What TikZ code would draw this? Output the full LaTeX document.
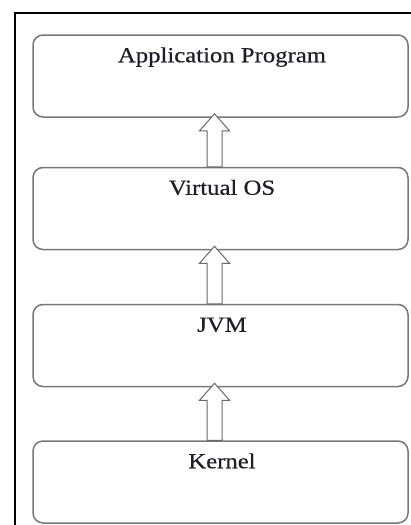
\documentclass[tikz,border=0pt]{standalone}
\usepackage{fontspec}
\setmainfont{Liberation Serif}[FakeStretch=1.15,FakeBold=0.4]
\usetikzlibrary{calc}
\definecolor{boxline}{RGB}{120,120,120}
\definecolor{arrowline}{RGB}{105,105,105}
\definecolor{labeltext}{RGB}{30,30,40}
\tikzset{
  layer/.style={draw=boxline, line width=1.5pt, fill=white, rounded corners=10pt,
    minimum width=375pt, minimum height=82pt, inner sep=0pt},
  layertext/.style={font=\fontsize{21.5}{26}\selectfont, text=labeltext, anchor=base},
  hollowarrow/.style={draw=arrowline, line width=1pt, fill=white, line join=miter},
  frameline/.style={draw=black, line width=2.2pt}
}
% hollow block arrow rising from the top of #1 into the bottom of #2
\newcommand\liftarrow[2]{%
  \draw[hollowarrow] let \p1=($(#1.north)+(-6pt,0)$), \p2=($(#2.south)+(-6pt,4pt)$) in
    (\x1-7.5pt,\y1) -- (\x1-7.5pt,\y2-17pt) -- (\x1-15pt,\y2-17pt) -- (\x1,\y2)
    -- (\x1+15pt,\y2-17pt) -- (\x1+7.5pt,\y2-17pt) -- (\x1+7.5pt,\y1) -- cycle;}
\begin{document}
\begin{tikzpicture}[x=1pt,y=-1pt]
  \useasboundingbox (0,0) rectangle (410,525);
  % outer frame, open to the right and bottom
  \draw[frameline] (15,526) -- (15,13) -- (411,13);
  % stacked layers
  \node[layer] (app) at (220.5,76) {};
  \node[layer] (vos) at (220.5,208.5) {};
  \node[layer] (jvm) at (220.5,345.5) {};
  \node[layer] (kernel) at (220.5,482) {};
  \node[layertext] (appt) at ($(app.north)+(1.5,28)$) {Application Program};
  \node[layertext] (vost) at ($(vos.north)+(1.5,28)$) {Virtual OS};
  \node[layertext] (jvmt) at ($(jvm.north)+(1.5,28)$) {JVM};
  \node[layertext] (kernelt) at ($(kernel.north)+(1.5,28)$) {Kernel};
  % arrows between layers
  \liftarrow{vos}{app}
  \liftarrow{jvm}{vos}
  \liftarrow{kernel}{jvm}
\end{tikzpicture}
\end{document}
